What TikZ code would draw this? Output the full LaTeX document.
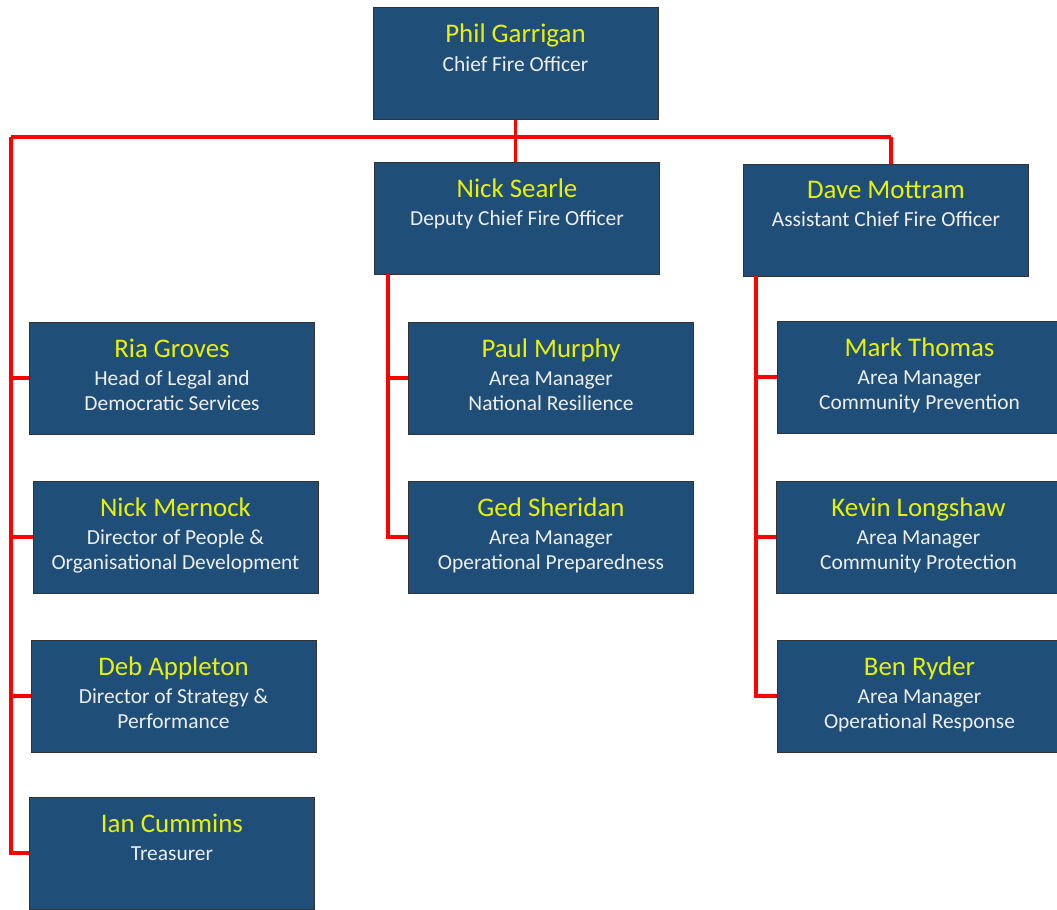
\documentclass[tikz,border=0pt]{standalone}
\usepackage{fontspec}
\setmainfont{Carlito}
\usetikzlibrary{positioning}
\definecolor{boxblue}{RGB}{31,78,121}
\definecolor{nameyellow}{RGB}{232,240,10}
\definecolor{titlegrey}{RGB}{238,238,238}
\definecolor{linkred}{RGB}{255,0,0}
\newcommand{\pname}[1]{{\color{nameyellow}\fontsize{15.3}{17}\selectfont #1}\\[2pt]}

\begin{document}
\begin{tikzpicture}[x=0.02cm,y=-0.02cm,
    post/.style={draw=black!80,fill=boxblue,minimum width=5.7cm,minimum height=2.24cm,inner sep=0pt},
    info/.style={below=0.33cm of #1.north,align=center,inner sep=0pt,text=titlegrey,font=\fontsize{12.2}{14.2}\selectfont},
    link/.style={draw=linkred,line width=1.8pt}]
    \useasboundingbox (0,0) rectangle (1057,909);

    % top row
    \node[post] (phil) at (515.5,63.5) {};
    \node[info=phil] (philtxt) {\pname{Phil Garrigan}Chief Fire Officer};
    \node[post] (searle) at (517,218) {};
    \node[info=searle] (searletxt) {\pname{Nick Searle}Deputy Chief Fire Officer};
    \node[post] (mottram) at (886,220.5) {};
    \node[info=mottram] (mottramtxt) {\pname{Dave Mottram}Assistant Chief Fire Officer};

    % left column
    \node[post] (ria) at (172,378) {};
    \node[info=ria] (riatxt) {\pname{Ria Groves}Head of Legal and\\Democratic Services};
    \node[post] (mernock) at (175.5,537) {};
    \node[info=mernock] (mernocktxt) {\pname{Nick Mernock}Director of People \&\\Organisational Development};
    \node[post] (appleton) at (173.5,696) {};
    \node[info=appleton] (appletontxt) {\pname{Deb Appleton}Director of Strategy \&\\Performance};
    \node[post] (cummins) at (172,853) {};
    \node[info=cummins] (cumminstxt) {\pname{Ian Cummins}Treasurer};

    % middle column
    \node[post] (murphy) at (551,378) {};
    \node[info=murphy] (murphytxt) {\pname{Paul Murphy}Area Manager\\National Resilience};
    \node[post] (sheridan) at (551,537) {};
    \node[info=sheridan] (sheridantxt) {\pname{Ged Sheridan}Area Manager\\Operational Preparedness};

    % right column
    \node[post] (thomas) at (919.5,377) {};
    \node[info=thomas] (thomastxt) {\pname{Mark Thomas}Area Manager\\Community Prevention};
    \node[post] (longshaw) at (918.5,537) {};
    \node[info=longshaw] (longshawtxt) {\pname{Kevin Longshaw}Area Manager\\Community Protection};
    \node[post] (ryder) at (919.5,696) {};
    \node[info=ryder] (rydertxt) {\pname{Ben Ryder}Area Manager\\Operational Response};

    % connectors
    \coordinate (busleft) at (11,137);
    \coordinate (busright) at (891,137);
    \coordinate (midtrunk) at (388,274);
    \coordinate (righttrunk) at (756,276);
    \draw[link] (busleft) -- (busright);
    \draw[link] (phil.south) -- (phil.south |- searle.north);
    \draw[link] (busright) -- (busright |- mottram.north);
    \draw[link] (busleft) |- (cummins.west);
    \draw[link] (ria.west) -- (ria.west -| busleft);
    \draw[link] (mernock.west) -- (mernock.west -| busleft);
    \draw[link] (appleton.west) -- (appleton.west -| busleft);
    \draw[link] (midtrunk) |- (sheridan.west);
    \draw[link] (murphy.west) -- (murphy.west -| midtrunk);
    \draw[link] (righttrunk) |- (ryder.west);
    \draw[link] (thomas.west) -- (thomas.west -| righttrunk);
    \draw[link] (longshaw.west) -- (longshaw.west -| righttrunk);
\end{tikzpicture}
\end{document}
